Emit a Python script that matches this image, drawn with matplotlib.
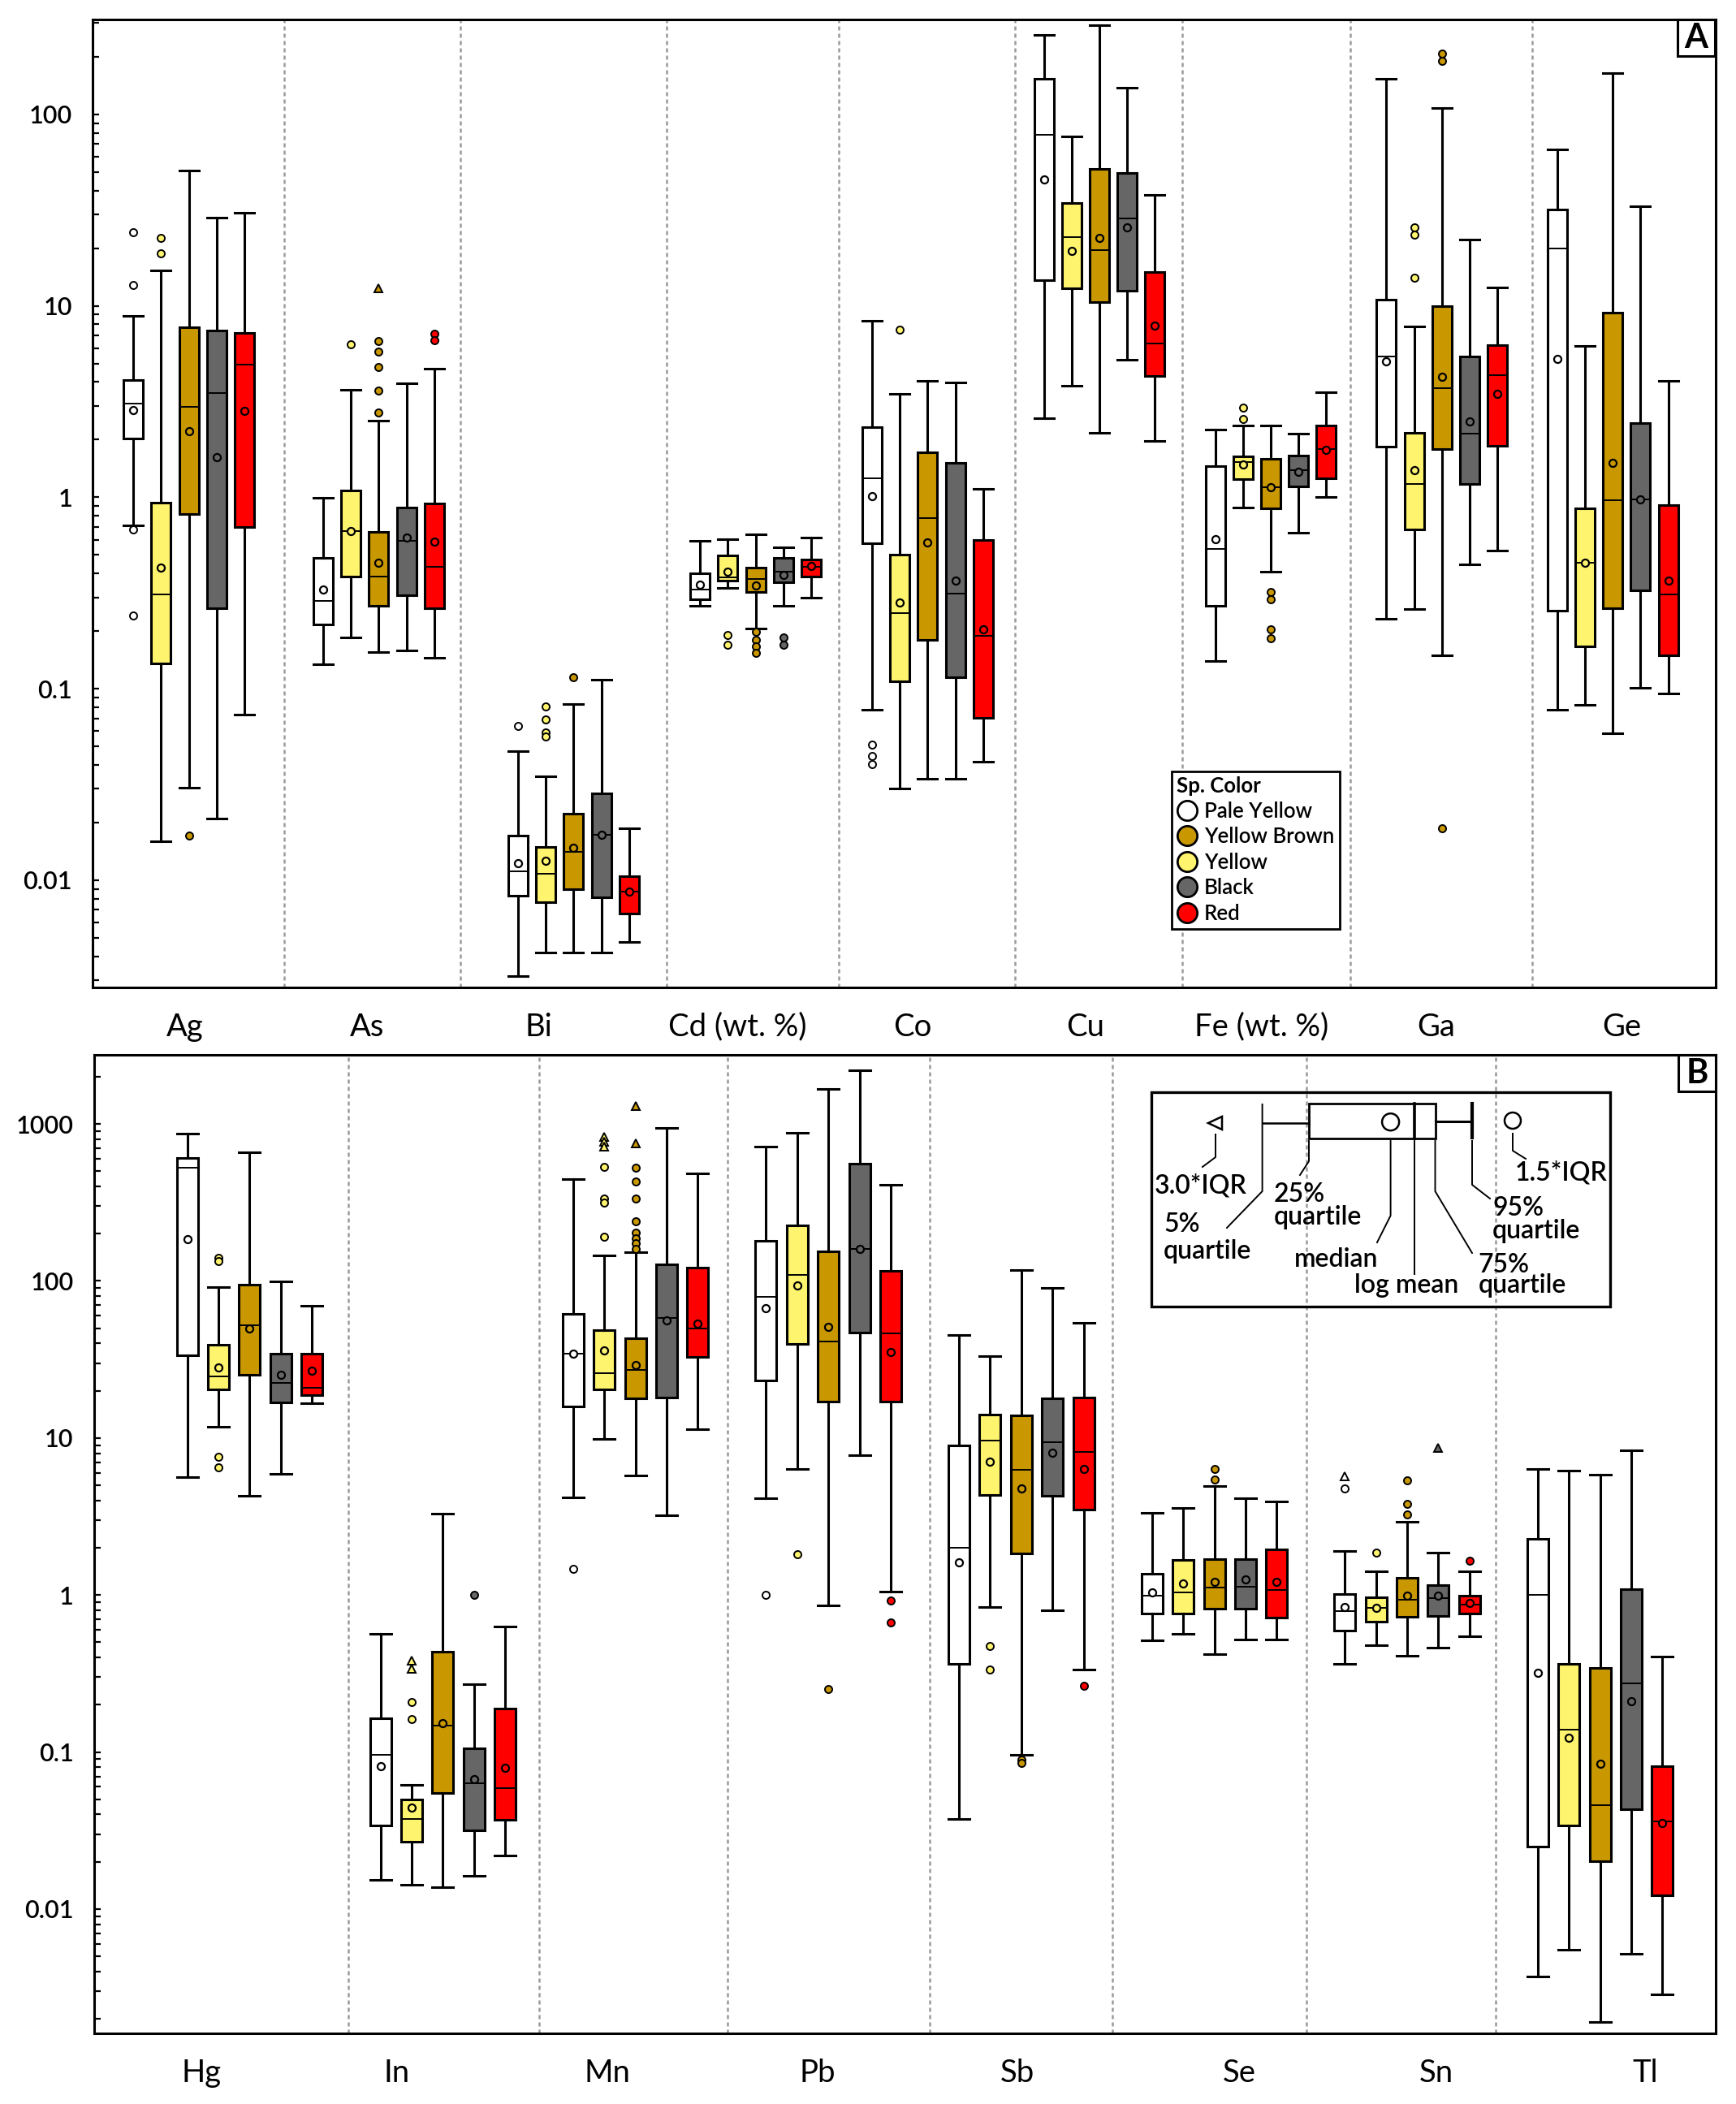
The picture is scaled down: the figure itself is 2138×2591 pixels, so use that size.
import matplotlib.pyplot as plt
from matplotlib.lines import Line2D
from matplotlib.patches import Rectangle, Circle, Polygon
from matplotlib.ticker import LogLocator, FuncFormatter, NullFormatter

plt.rcParams['font.family'] = ['Lato', 'DejaVu Sans']

# series order inside each element group
series = ['Pale Yellow', 'Yellow', 'Yellow Brown', 'Black', 'Red']
colors = ['#ffffff', '#fff46e', '#c99700', '#666666', '#ff0000']
legend_order = [0, 2, 1, 3, 4]

# ---------------- panel A ----------------
a_elements = ['Ag', 'As', 'Bi', 'Cd (wt. %)', 'Co', 'Cu', 'Fe (wt. %)', 'Ga', 'Ge']
a_p95 = [[8.9, 15.3, 51, 28.9, 30.5], [0.99, 3.65, 2.51, 3.93, 4.70],
         [0.047, 0.0348, 0.083, 0.111, 0.0186], [0.593, 0.606, 0.638, 0.546, 0.615],
         [8.36, 3.46, 4.05, 3.96, 1.11], [260, 76.4, 291, 138, 38.1],
         [2.26, 2.38, 2.38, 2.14, 3.54], [153, 7.81, 108, 22.1, 12.5],
         [65.3, 6.15, 165, 33.1, 4.05]]
a_q3 = [[4.1, 0.94, 7.76, 7.41, 7.2], [0.484, 1.09, 0.662, 0.88, 0.929],
        [0.0171, 0.0149, 0.0222, 0.0285, 0.0105], [0.402, 0.495, 0.430, 0.481, 0.473],
        [2.33, 0.499, 1.71, 1.51, 0.597], [153, 34.3, 51.8, 49.5, 15.0],
        [1.45, 1.63, 1.58, 1.65, 2.38], [10.8, 2.18, 9.93, 5.42, 6.24],
        [31.9, 0.875, 9.2, 2.43, 0.914]]
a_med = [[3.07, 0.312, 2.98, 3.51, 4.95], [0.287, 0.668, 0.384, 0.593, 0.433],
         [0.0111, 0.0108, 0.014, 0.0173, 0.00867], [0.328, 0.381, 0.373, 0.407, 0.433],
         [1.25, 0.249, 0.782, 0.314, 0.189], [78, 22.8, 19.5, 28.5, 6.34],
         [0.538, 1.53, 1.13, 1.39, 1.78], [5.46, 1.17, 3.73, 2.14, 4.36],
         [20.0, 0.453, 0.964, 0.978, 0.312]]
a_mean = [[2.85, 0.43, 2.22, 1.62, 2.83], [0.328, 0.665, 0.453, 0.615, 0.584],
          [0.0123, 0.0126, 0.0148, 0.0173, 0.0087], [0.348, 0.407, 0.346, 0.393, 0.436],
          [1.01, 0.283, 0.579, 0.367, 0.205], [45.6, 19.3, 22.6, 25.6, 7.87],
          [0.601, 1.48, 1.13, 1.36, 1.77], [5.14, 1.39, 4.26, 2.49, 3.46],
          [5.26, 0.453, 1.51, 0.978, 0.367]]
a_q1 = [[2.02, 0.135, 0.817, 0.262, 0.70], [0.216, 0.384, 0.270, 0.309, 0.262],
        [0.0083, 0.00769, 0.00894, 0.0081, 0.00668], [0.294, 0.367, 0.321, 0.361, 0.384],
        [0.575, 0.109, 0.180, 0.115, 0.0703], [13.6, 12.3, 10.5, 12.0, 4.30],
        [0.272, 1.24, 0.875, 1.135, 1.25], [1.83, 0.678, 1.78, 1.17, 1.85],
        [0.255, 0.166, 0.262, 0.326, 0.150]]
a_p5 = [[0.71, 0.0159, 0.0305, 0.021, 0.073], [0.134, 0.185, 0.155, 0.158, 0.145],
        [0.00316, 0.0042, 0.00417, 0.0042, 0.00477], [0.270, 0.336, 0.207, 0.270, 0.300],
        [0.078, 0.030, 0.034, 0.034, 0.0417], [2.58, 3.84, 2.16, 5.22, 1.96],
        [0.139, 0.88, 0.407, 0.653, 1.0], [0.231, 0.26, 0.150, 0.446, 0.526],
        [0.0776, 0.0824, 0.0584, 0.1015, 0.0942]]
a_out = [[[24.2, 12.8, 0.68, 0.24], [22.6, 18.7], [0.017], [], []],
         [[], [6.29], [6.53, 5.75, 4.77, 3.59, 2.77], [], [7.14, 6.63]],
         [[0.0638], [0.0805, 0.0693, 0.0588, 0.0562], [0.115], [], []],
         [[], [0.191, 0.170], [0.198, 0.179, 0.166, 0.154], [0.186, 0.170], []],
         [[0.051, 0.0443, 0.0402], [7.47], [], [], []],
         [[], [], [], [], []],
         [[], [2.94, 2.56], [0.321, 0.294, 0.205, 0.183], [], []],
         [[], [25.8, 23.6, 14.0], [208, 191, 0.0187], [], []],
         [[], [], [], [], []]]
a_ext = [[[], [], [], [], []], [[], [], [12.4], [], []]] + [[[], [], [], [], []]] * 7

# ---------------- panel B ----------------
b_elements = ['Hg', 'In', 'Mn', 'Pb', 'Sb', 'Se', 'Sn', 'Tl']
b_p95 = [[869, 91.5, 656, 99.6, 69.8], [0.563, 0.0615, 3.29, 0.272, 0.63],
         [444, 145, 152, 946, 483], [721, 877, 1671, 2190, 412],
         [45, 33.1, 118, 89.8, 54.2], [3.32, 3.58, 4.96, 4.12, 3.93],
         [1.90, 1.42, 2.91, 1.86, 1.41], [6.38, 6.21, 5.87, 8.37, 0.406]]
b_q3 = [[610, 39.1, 95, 34.6, 34.6], [0.164, 0.0497, 0.438, 0.105, 0.189],
        [61.8, 48.9, 42.9, 128, 122], [181, 226, 154, 555, 116],
        [8.94, 14.1, 13.9, 17.8, 18.2], [1.37, 1.68, 1.69, 1.69, 1.95],
        [1.01, 0.968, 1.28, 1.15, 0.995], [2.29, 0.363, 0.343, 1.09, 0.0814]]
b_med = [[525, 24.7, 52.3, 22.3, 20.9], [0.0955, 0.0375, 0.147, 0.0633, 0.0587],
         [34.6, 25.9, 27.2, 57.9, 49.9], [79.6, 109, 41, 160, 46.3],
         [1.99, 9.63, 6.27, 9.37, 8.14], [0.986, 1.04, 1.11, 1.13, 1.07],
         [0.788, 0.826, 0.933, 0.95, 0.873], [1.0, 0.139, 0.0456, 0.274, 0.0361]]
b_mean = [[184, 28.2, 49.9, 25.2, 26.7], [0.0814, 0.0440, 0.152, 0.0669, 0.0792],
          [34.6, 36.3, 29, 55.8, 53.7], [67.2, 94, 50.8, 160, 35.3],
          [1.62, 7.08, 4.74, 8.07, 6.38], [1.04, 1.19, 1.21, 1.25, 1.21],
          [0.834, 0.826, 0.986, 0.99, 0.89], [0.318, 0.123, 0.0837, 0.211, 0.0355]]
b_q1 = [[33.7, 20.5, 25.4, 16.9, 18.7], [0.0341, 0.0268, 0.055, 0.0317, 0.0372],
        [15.9, 20.3, 17.8, 18.0, 32.8], [23.2, 39.8, 17.0, 46.7, 17.0],
        [0.363, 4.31, 1.83, 4.27, 3.48], [0.759, 0.766, 0.818, 0.818, 0.718],
        [0.590, 0.679, 0.724, 0.738, 0.766], [0.0251, 0.0341, 0.0202, 0.0431, 0.0122]]
b_p5 = [[5.6, 11.8, 4.27, 5.93, 16.7], [0.0153, 0.0142, 0.0138, 0.0163, 0.0218],
        [4.2, 9.9, 5.76, 3.2, 11.4], [4.12, 6.33, 0.857, 7.77, 1.05],
        [0.0375, 0.841, 0.0963, 0.803, 0.334], [0.513, 0.563, 0.418, 0.518, 0.523],
        [0.366, 0.481, 0.410, 0.463, 0.547], [0.0037, 0.0055, 0.00192, 0.00518, 0.00287]]
b_out = [[[], [141, 133, 7.55, 6.5], [], [], []],
         [[], [0.209, 0.163], [], [1.0], []],
         [[1.46], [530, 335, 314, 191], [525, 431, 335, 240, 204, 186, 173, 160], [], []],
         [[1.0], [1.81], [0.252], [], [0.924, 0.667]],
         [[], [0.476, 0.337], [0.0894, 0.0853], [], [0.264]],
         [[], [], [6.38, 5.45], [], []],
         [[4.78], [1.86], [5.35, 3.82, 3.26], [], [1.65]],
         [[], [], [], [], []]]
b_ext = [[[], [], [], [], []],
         [[], [0.380, 0.340], [], [], []],
         [[], [830, 769, 714], [1300, 749], [], []],
         [[], [], [], [], []],
         [[], [], [], [], []],
         [[], [], [], [], []],
         [[5.71], [], [], [8.69], []],
         [[], [], [], [], []]]

# ---------------- layout (pixels of the 2138 x 2591 canvas) ----------------
W, H = 2138, 2591
a_frame = (114, 24, 2112.5, 1216)
b_frame = (115.5, 1299.4, 2113, 2504.3)
a_ylim = (0.00275, 313)
b_ylim = (0.00161, 2740)
a_centers = [232.6, 466.3, 706.4, 930.6, 1142.4, 1353.9, 1565.0, 1775.8, 1986.1]
a_seps = [349.7, 566.8, 820.7, 1033, 1249.9, 1456.3, 1663, 1887]
a_label_x = [228, 452, 663, 908, 1124, 1337, 1554, 1769, 1997]
b_centers = [307.3, 545.4, 782.6, 1020.2, 1257.9, 1495.7, 1733.0, 1970.7]
b_seps = [428.7, 664, 895.7, 1145, 1370, 1608.8, 1841.9]
b_label_x = [248, 489, 748, 1007, 1253, 1526, 1769, 2026]

fig = plt.figure(figsize=(W / 100, H / 100), dpi=100)


def make_axes(frame):
    l, t, r, b = frame
    return fig.add_axes([l / W, 1 - b / H, (r - l) / W, (b - t) / H])


def draw_panel(ax, frame, elements, p5, q1, med, q3, p95, mean, out, ext,
               centers, seps, label_x, ylim, step, width):
    for i in range(5):
        stats = []
        for j in range(len(elements)):
            stats.append(dict(med=med[j][i], q1=q1[j][i], q3=q3[j][i],
                              whislo=p5[j][i], whishi=p95[j][i],
                              mean=mean[j][i], fliers=out[j][i]))
        pos = [c + (i - 2) * step for c in centers]
        ax.bxp(stats, positions=pos, widths=width, capwidths=width,
               patch_artist=True, showmeans=True, manage_ticks=False,
               boxprops=dict(facecolor=colors[i], edgecolor='black', linewidth=2.2),
               medianprops=dict(color='black', linewidth=1.4),
               whiskerprops=dict(color='black', linewidth=2.2),
               capprops=dict(color='black', linewidth=2.2),
               meanprops=dict(marker='o', markerfacecolor=colors[i],
                              markeredgecolor='black', markersize=6.5,
                              markeredgewidth=1.6),
               flierprops=dict(marker='o', markerfacecolor=colors[i],
                               markeredgecolor='black', markersize=6.5,
                               markeredgewidth=1.4))
        for j in range(len(elements)):
            if ext[j][i]:
                ax.plot([pos[j]] * len(ext[j][i]), ext[j][i], ls='none',
                        marker='^', markersize=6.5, markerfacecolor=colors[i],
                        markeredgecolor='black', markeredgewidth=1.4)
    for s in seps:
        ax.axvline(s, color='#9a9a9a', lw=1.8, ls=(0, (2, 1.6)), zorder=0)
    ax.set_xlim(frame[0], frame[2])
    ax.set_yscale('log')
    ax.set_ylim(*ylim)
    ax.yaxis.set_major_locator(LogLocator(base=10, numticks=20))
    ax.yaxis.set_minor_locator(LogLocator(base=10, subs=range(2, 10), numticks=20))
    ax.yaxis.set_major_formatter(FuncFormatter(lambda v, _: f'{v:g}'))
    ax.yaxis.set_minor_formatter(NullFormatter())
    ax.tick_params(axis='y', which='both', direction='in', length=6, width=1.6,
                   labelsize=22, pad=18)
    for lab in ax.get_yticklabels():
        lab.set_fontweight('semibold')
    ax.set_xticks(label_x)
    ax.set_xticklabels(elements, fontsize=27.5)
    ax.tick_params(axis='x', length=0, pad=22)
    for sp in ax.spines.values():
        sp.set_linewidth(2.2)


ax_a = make_axes(a_frame)
draw_panel(ax_a, a_frame, a_elements, a_p5, a_q1, a_med, a_q3, a_p95, a_mean,
           a_out, a_ext, a_centers, a_seps, a_label_x, a_ylim, 34.2, 24)
ax_b = make_axes(b_frame)
draw_panel(ax_b, b_frame, b_elements, b_p5, b_q1, b_med, b_q3, b_p95, b_mean,
           b_out, b_ext, b_centers, b_seps, b_label_x, b_ylim, 38.4, 26)

# colour legend
handles = [Line2D([], [], ls='none', marker='o', markersize=17.5,
                  markerfacecolor=colors[k], markeredgecolor='black',
                  markeredgewidth=2) for k in legend_order]
leg = fig.legend(handles, [series[k] for k in legend_order], loc='upper left',
                 bbox_to_anchor=(1443 / W, 1 - 950 / H), title='Sp. Color',
                 title_fontproperties={'weight': 'bold', 'size': 18.5},
                 prop={'size': 18.5, 'weight': 'semibold'}, alignment='left',
                 fancybox=False, framealpha=1, edgecolor='black',
                 borderpad=0.25, labelspacing=0.25, handletextpad=0.3,
                 handlelength=1.0, borderaxespad=0)
leg.get_frame().set_linewidth(2)

# overlay in canvas pixels: panel tags and the box-plot key
ov = fig.add_axes([0, 0, 1, 1], zorder=10)
ov.set_xlim(0, W)
ov.set_ylim(H, 0)
ov.set_xticks([])
ov.set_yticks([])
ov.axis('off')
ov.patch.set_visible(False)

for tag, (x0, y0) in [('A', (2066, 24)), ('B', (2067, 1299.4))]:
    ov.add_patch(Rectangle((x0, y0), 46, 45, fill=False, ec='black', lw=2.2))
    ov.text(x0 + 23, y0 + 23, tag, ha='center', va='center', fontsize=30,
            fontweight='bold')

ov.add_patch(Rectangle((1418, 1345), 565, 264, fill=False, ec='black', lw=2.4))
ov.add_patch(Rectangle((1612, 1359), 155.5, 42.7, fill=False, ec='black', lw=2))
ov.plot([1742.2, 1742.2], [1359, 1401.7], color='black', lw=2.6)
ov.plot([1554.6, 1612], [1382.7, 1382.7], color='black', lw=1.8)
ov.plot([1767.5, 1813], [1381, 1381], color='black', lw=2.2)
ov.plot([1813, 1813], [1359, 1401], color='black', lw=3)
ov.add_patch(Circle((1712.6, 1381.7), 10.5, fill=False, ec='black', lw=1.8))
ov.add_patch(Circle((1863, 1380), 10, fill=False, ec='black', lw=1.8))
ov.add_patch(Polygon([[1488, 1383], [1505, 1375], [1505, 1391]], closed=True,
                     fill=False, ec='black', lw=1.8))
leaders = [[(1497, 1397), (1497, 1425), (1481, 1437)],
           [(1554.6, 1360), (1554.6, 1467), (1511, 1512)],
           [(1612, 1405), (1612, 1430), (1601, 1447)],
           [(1712.6, 1405), (1712.6, 1497), (1696, 1530)],
           [(1742.2, 1405), (1742.2, 1569)],
           [(1767.5, 1405), (1767.5, 1467), (1813, 1543)],
           [(1813, 1405), (1813, 1459), (1835, 1476)],
           [(1863, 1396), (1863, 1417), (1879, 1427)]]
for pts in leaders:
    ov.plot([p[0] for p in pts], [p[1] for p in pts], color='black', lw=1.4)
key_text = [(1422, 1470, '3.0*IQR'), (1433, 1517, '5%'), (1433, 1550, 'quartile'),
            (1569, 1480, '25%'), (1569, 1508, 'quartile'), (1594, 1560, 'median'),
            (1668, 1592, 'log mean'), (1820, 1567, '75%'), (1821, 1592, 'quartile'),
            (1838, 1497, '95%'), (1838, 1525, 'quartile'), (1866, 1454, '1.5*IQR')]
for x, y, s in key_text:
    ov.text(x, y, s, ha='left', va='baseline', fontsize=23, fontweight='semibold')

fig.savefig('out.png', dpi=100)
